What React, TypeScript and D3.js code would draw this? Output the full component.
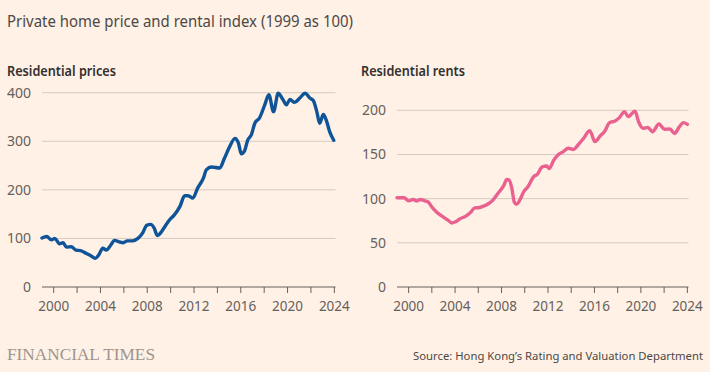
import React from "react";
import * as d3 from "d3";

const priceYears = [1999.0, 1999.4, 1999.8, 2000.1, 2000.5, 2000.8, 2001.1, 2001.5, 2001.9, 2002.3, 2002.8, 2003.2, 2003.55, 2003.85, 2004.2, 2004.5, 2004.9, 2005.2, 2005.6, 2005.9, 2006.3, 2006.75, 2007.2, 2007.6, 2007.96, 2008.3, 2008.6, 2008.85, 2009.1, 2009.5, 2009.9, 2010.3, 2010.8, 2011.2, 2011.5, 2011.9, 2012.3, 2012.8, 2013.05, 2013.5, 2014.2, 2014.6, 2015.05, 2015.5, 2015.8, 2016.05, 2016.3, 2016.6, 2016.9, 2017.2, 2017.6, 2018.05, 2018.4, 2018.8, 2019.2, 2019.6, 2019.9, 2020.2, 2020.6, 2021.05, 2021.5, 2021.9, 2022.2, 2022.5, 2022.75, 2023.05, 2023.3, 2023.6, 2023.95];
const priceValues = [101, 104, 97, 100, 89, 91, 82, 83, 76, 75, 69, 64, 59, 66, 80, 76, 87, 96, 93, 91, 95, 95, 100, 111, 127, 129, 121, 106, 110, 124, 138, 148, 166, 188, 188, 183, 203, 224, 241, 247, 245, 265, 289, 306, 296, 274, 279, 303, 313, 337, 348, 375, 396, 361, 399, 386, 375, 386, 380, 389, 399, 389, 384, 361, 337, 355, 344, 320, 302];

const rentYears = [1999.0, 1999.6, 2000.0, 2000.4, 2000.7, 2001.0, 2001.4, 2001.7, 2002.0, 2002.4, 2003.0, 2003.45, 2003.7, 2004.0, 2004.4, 2004.9, 2005.3, 2005.7, 2006.1, 2006.45, 2006.9, 2007.3, 2007.7, 2008.2, 2008.45, 2008.65, 2008.9, 2009.1, 2009.3, 2009.6, 2009.9, 2010.3, 2010.75, 2011.1, 2011.5, 2011.9, 2012.1, 2012.5, 2012.9, 2013.3, 2013.75, 2014.2, 2014.6, 2015.05, 2015.6, 2016.05, 2016.5, 2016.9, 2017.3, 2017.8, 2018.15, 2018.6, 2018.9, 2019.5, 2019.8, 2020.2, 2020.6, 2021.0, 2021.55, 2022.05, 2022.5, 2022.9, 2023.35, 2023.65, 2024.0];
const rentValues = [101, 101, 97.5, 99, 97.5, 99, 97.5, 96, 90.6, 85, 79, 75, 72.5, 73.6, 77, 80, 84, 89.5, 90, 91.5, 94.5, 99, 106, 115, 121.7, 121, 111, 96, 93.6, 99, 107.5, 114, 124.7, 127.8, 136, 136.9, 134, 143.6, 150, 153, 157, 155.7, 161, 168, 177, 164.5, 171, 176.6, 186, 188, 191.7, 198.5, 192.8, 199, 187, 179.6, 180.7, 175.8, 184.5, 178.5, 178.8, 173.8, 182, 186, 184];

const yearTicks = [2000, 2004, 2008, 2012, 2016, 2020, 2024];
const minorYearTicks = [2000, 2002, 2004, 2006, 2008, 2010, 2012, 2014, 2016, 2018, 2020, 2022, 2024];
const priceTicks = [0, 100, 200, 300, 400];
const rentTicks = [0, 50, 100, 150, 200];

const titleText = "Private home price and rental index (1999 as 100)";
const priceTitle = "Residential prices";
const rentTitle = "Residential rents";
const sourceText = "Source: Hong Kong\u2019s Rating and Valuation Department";

const BG = "#fff1e5";
const GRID = "#d6cbc1";
const AXIS = "#66605c";
const TEXT = "#33302e";
const FONT = "'Noto Sans', 'Open Sans', sans-serif";

type PanelProps = {
  years: number[];
  values: number[];
  ticks: number[];
  color: string;
  title: string;
  x0: number;
  x1: number;
  labelX: number;
  titleX: number;
  topValue: number;
  topY: number;
};

function Panel({ years, values, ticks, color, title, x0, x1, labelX, titleX, topValue, topY }: PanelProps) {
  const x = d3.scaleLinear().domain([1999, 2024.1]).range([x0, x1]);
  const y = d3.scaleLinear().domain([0, topValue]).range([287, topY]);
  const pts: [number, number][] = years.map((yr, i) => [yr, values[i]]);
  const line = d3
    .line<[number, number]>()
    .x((d) => x(d[0]))
    .y((d) => y(d[1]))
    .curve(d3.curveMonotoneX);
  return (
    <g>
      <text x={titleX} y={76} fontFamily={FONT} fontWeight={600} fontSize={13.5} fill={TEXT} textLength={title === priceTitle ? 109 : 104} lengthAdjust="spacingAndGlyphs">
        {title}
      </text>
      {ticks.filter((t) => t > 0).map((t) => (
        <line key={t} x1={x0} x2={x1} y1={y(t)} y2={y(t)} stroke={GRID} strokeWidth={1} />
      ))}
      {ticks.map((t) => (
        <text key={"l" + t} x={labelX} y={y(t)} dy="0.35em" textAnchor="end" fontFamily={FONT} fontSize={14} fill={AXIS}>
          {t}
        </text>
      ))}
      <path d={line(pts) || ""} fill="none" stroke={color} strokeWidth={3.4} strokeLinejoin="round" strokeLinecap="round" />
      <line x1={x0} x2={x1} y1={287} y2={287} stroke={AXIS} strokeWidth={1} />
      {minorYearTicks.map((t) => (
        <line key={"t" + t} x1={x(t)} x2={x(t)} y1={287} y2={293} stroke={AXIS} strokeWidth={1} />
      ))}
      {yearTicks.map((t) => (
        <text key={"y" + t} x={x(t)} y={306} dy="0.35em" textAnchor="middle" fontFamily={FONT} fontSize={13.5} fill={AXIS}>
          {t}
        </text>
      ))}
    </g>
  );
}

export default function App() {
  return (
    <div style={{ position: "absolute", left: 0, top: 0 }}>
      <style>{`body{margin:0;background:${BG};}`}</style>
      <svg width={710} height={372} style={{ display: "block", background: BG }}>
        <rect width={710} height={372} fill={BG} />
        <text x={7} y={26.5} fontFamily={FONT} fontSize={16.5} fill="#4d4845" textLength={346} lengthAdjust="spacingAndGlyphs">
          {titleText}
        </text>
        <Panel years={priceYears} values={priceValues} ticks={priceTicks} color="#0f5499" title={priceTitle}
          x0={42} x1={335.5} labelX={31} titleX={7} topValue={400} topY={92.7} />
        <Panel years={rentYears} values={rentValues} ticks={rentTicks} color="#e9618f" title={rentTitle}
          x0={397} x1={688.5} labelX={386} titleX={361} topValue={200} topY={110.3} />
        <text x={7} y={360} fontFamily="'Liberation Serif', 'DejaVu Serif', serif" fontSize={16.5} fill="#9e958e" textLength={148} lengthAdjust="spacingAndGlyphs">
          FINANCIAL TIMES
        </text>
        <text x={703} y={360} textAnchor="end" fontFamily={FONT} fontSize={11.3} fill="#4d4845">
          {sourceText}
        </text>
      </svg>
    </div>
  );
}
